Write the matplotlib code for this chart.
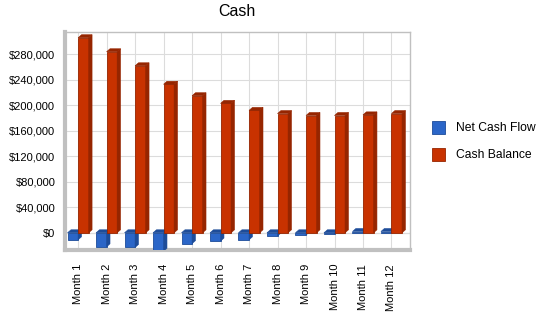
import matplotlib
matplotlib.use("Agg")
import matplotlib.pyplot as plt
from matplotlib.patches import Polygon, Rectangle
from matplotlib.ticker import FuncFormatter

plt.rcParams["font.family"] = ["Liberation Sans", "DejaVu Sans"]

# data
months = ["Month %d" % i for i in range(1, 13)]
net_cash_flow = [-11000, -22000, -23000, -29000, -17000, -13000, -11000, -5000, -3500, -2000, 2000, 2000]
cash_balance = [306000, 284000, 262000, 233000, 215000, 203000, 192000, 187000, 184000, 184000, 185000, 187000]
yticks = list(range(0, 280001, 40000))

blue, blue_side = "#2b66c8", "#1d4c99"
red, red_side = "#c83200", "#962500"

fig = plt.figure(figsize=(5.5, 3.18), dpi=100)
ax = fig.add_axes([65 / 550, 1 - 250 / 318, (410 - 65) / 550, (250 - 32) / 318])

xlo, xhi = -0.46, 11.65
ylo, yhi = -27000, 315000
ax.set_xlim(xlo, xhi)
ax.set_ylim(ylo, yhi)

w = 0.37
dx = 0.12
dy = 3 * (yhi - ylo) / 218  # ~3 px of depth


def bar3d(x0, val, face, side):
    # front face
    ax.add_patch(Rectangle((x0, 0), w, val, facecolor=face, edgecolor=side, lw=0.6, zorder=3))
    top = max(val, 0)
    # right side
    ax.add_patch(Polygon([(x0 + w, 0), (x0 + w + dx, dy), (x0 + w + dx, val + dy), (x0 + w, val)],
                         closed=True, facecolor=side, edgecolor=side, lw=0.4, zorder=3))
    # top
    ax.add_patch(Polygon([(x0, top), (x0 + dx, top + dy), (x0 + w + dx, top + dy), (x0 + w, top)],
                         closed=True, facecolor=side, edgecolor=side, lw=0.4, zorder=3))


for i in range(len(months)):
    bar3d(i - w, net_cash_flow[i], blue, blue_side)
    bar3d(i, cash_balance[i], red, red_side)

ax.set_yticks(yticks)
ax.yaxis.set_major_formatter(FuncFormatter(lambda v, p: "${:,.0f}".format(v)))
ax.set_xticks(range(len(months)))
ax.set_xticklabels(months, rotation=90)
ax.tick_params(axis="both", labelsize=8, length=0, pad=7)
ax.tick_params(axis="x", pad=10)

ax.grid(True, color="#dcdcdc", lw=0.8, zorder=0)
ax.axhline(0, color="#c8c8c8", lw=0.8, zorder=1)
for s in ["top", "right"]:
    ax.spines[s].set_color("#c0c0c0")
    ax.spines[s].set_linewidth(1)
for s in ["left", "bottom"]:
    ax.spines[s].set_color("#c0c0c0")
    ax.spines[s].set_linewidth(3)

fig.text(237 / 550, 1 - 12 / 318, "Cash", ha="center", va="center", fontsize=11.5)

# legend
fig.patches.append(Rectangle((432 / 550, 1 - 134 / 318), 13 / 550, 13 / 318, transform=fig.transFigure,
                             facecolor=blue, edgecolor=blue_side, lw=0.6))
fig.patches.append(Rectangle((432 / 550, 1 - 161 / 318), 13 / 550, 13 / 318, transform=fig.transFigure,
                             facecolor=red, edgecolor=red_side, lw=0.6))
fig.text(456 / 550, 1 - 128 / 318, "Net Cash Flow", va="center", fontsize=8.7)
fig.text(456 / 550, 1 - 155 / 318, "Cash Balance", va="center", fontsize=8.7)

fig.savefig("out.png", dpi=100)
